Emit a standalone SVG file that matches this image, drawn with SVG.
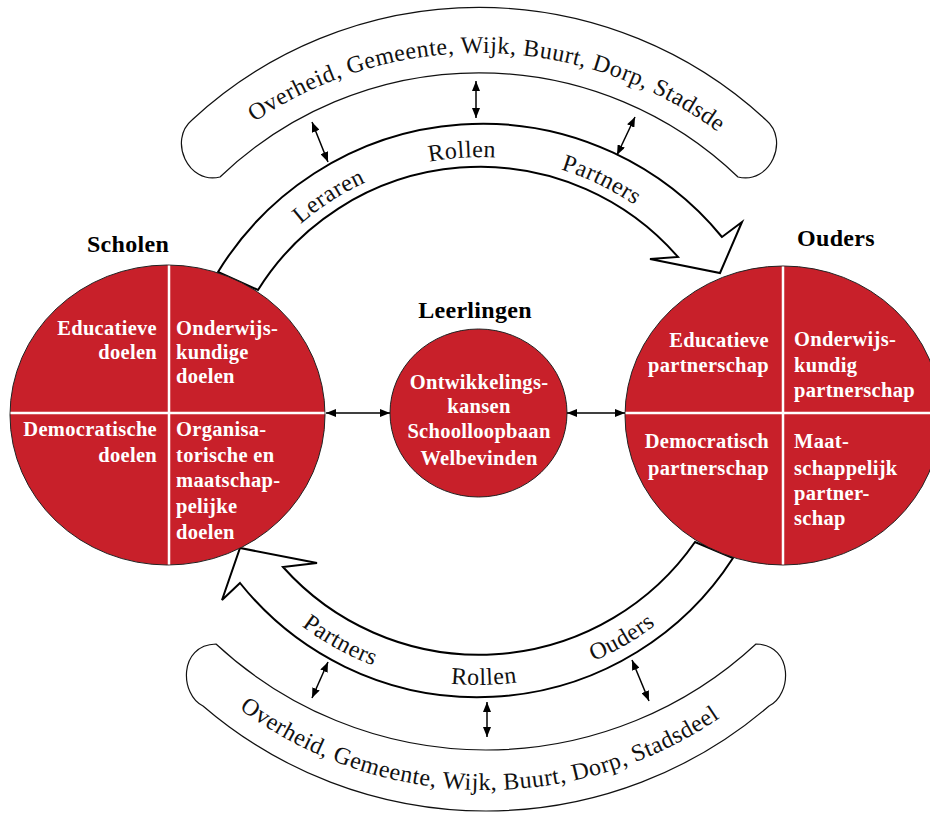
<svg xmlns="http://www.w3.org/2000/svg" width="930" height="814" viewBox="0 0 930 814">
<defs>
<style>
.band{fill:#fff;stroke:#111;stroke-width:1.2}
.arr{fill:#fff;stroke:#000;stroke-width:2;stroke-linejoin:miter}
.circ{fill:#C8202A;stroke:#222;stroke-width:1}
.div{stroke:#fff;stroke-width:2.5}
.lbl{font-family:"Liberation Serif","Times New Roman",serif;font-size:24px;letter-spacing:0.5px;fill:#111}
.wt{font-family:"Liberation Serif","Times New Roman",serif;font-weight:bold;font-size:20.5px;letter-spacing:0.3px;fill:#fff}
.hd{font-family:"Liberation Serif","Times New Roman",serif;font-weight:bold;font-size:24px;letter-spacing:0.3px;fill:#000;text-anchor:middle}
.conn{stroke:#000;stroke-width:1.5;fill:none;marker-start:url(#ah);marker-end:url(#ah)}
</style>
<marker id="ah" viewBox="0 0 10 8" refX="10" refY="4" markerWidth="10" markerHeight="8" markerUnits="userSpaceOnUse" orient="auto-start-reverse">
<path d="M0,0 L10,4 L0,8 Z" fill="#000"/>
</marker>
<path id="tpTopBand" d="M79 453 A400 400 0 0 1 879 453"/>
<path id="tpBotBand" d="M71 375 A415 415 0 0 0 901 375"/>
<path id="tpTopArr" d="M207 430 A273 273 0 0 1 753 430"/>
<path id="tpBotArr" d="M185 392 A293 293 0 0 0 771 392"/>
</defs>
<rect width="930" height="814" fill="#fff"/>

<g id="band-top">
<path class="band" d="M192 120 A422 422 0 0 1 766 120 C790 140 770 185 738 177 A374 374 0 0 0 220 177 C188 185 168 140 192 120 Z"/>
<text class="lbl" text-anchor="middle"><textPath href="#tpTopBand" startOffset="637">Overheid, Gemeente, Wijk, Buurt, Dorp, Stadsde</textPath></text>
</g>

<g id="band-bottom">
<path class="band" d="M216 644 A396.9 396.9 0 0 0 756 644 C794 645 792 695 769 706 A433.9 433.9 0 0 1 203 706 C180 695 178 645 216 644 Z"/>
<text class="lbl" text-anchor="middle"><textPath href="#tpBotBand" startOffset="644">Overheid, Gemeente, Wijk, Buurt, Dorp, Stadsdeel</textPath></text>
</g>

<g id="arrow-top">
<path class="arr" d="M218 272 A310 310 0 0 1 722 237 L742 222 L720 273 L650 259 L678 257 A262 262 0 0 0 258 290 Z"/>
<text class="lbl" text-anchor="middle"><textPath href="#tpTopArr" startOffset="272">Leraren</textPath></text>
<text class="lbl" text-anchor="middle"><textPath href="#tpTopArr" startOffset="411">Rollen</textPath></text>
<text class="lbl" text-anchor="middle"><textPath href="#tpTopArr" startOffset="552">Partners</textPath></text>
</g>

<g id="arrow-bottom">
<path class="arr" d="M733 558 A304 304 0 0 1 240 583 L222 600 L240 548 L317 563 L283 567 A263 263 0 0 0 695 542 Z"/>
<text class="lbl" text-anchor="middle"><textPath href="#tpBotArr" startOffset="312">Partners</textPath></text>
<text class="lbl" text-anchor="middle"><textPath href="#tpBotArr" startOffset="466">Rollen</textPath></text>
<text class="lbl" text-anchor="middle"><textPath href="#tpBotArr" startOffset="615">Ouders</textPath></text>
</g>

<g id="node-scholen">
<text class="hd" x="128" y="252">Scholen</text>
<ellipse class="circ" cx="167.5" cy="415" rx="157.5" ry="150"/>
<line class="div" x1="169" y1="265.5" x2="169" y2="564.5"/>
<line class="div" x1="10.5" y1="413" x2="324.5" y2="413"/>
<g class="wt" text-anchor="end">
<text x="157" y="335">Educatieve</text>
<text x="157" y="359">doelen</text>
<text x="157" y="436">Democratische</text>
<text x="157" y="462">doelen</text>
</g>
<g class="wt">
<text x="176" y="335">Onderwijs-</text>
<text x="176" y="359">kundige</text>
<text x="176" y="383">doelen</text>
<text x="176" y="436">Organisa-</text>
<text x="176" y="462">torische en</text>
<text x="176" y="487">maatschap-</text>
<text x="176" y="513">pelijke</text>
<text x="176" y="539">doelen</text>
</g>
</g>

<g id="node-leerlingen">
<text class="hd" x="475" y="318">Leerlingen</text>
<ellipse class="circ" cx="478.5" cy="413" rx="88.5" ry="84"/>
<g class="wt" text-anchor="middle">
<text x="479" y="389">Ontwikkelings-</text>
<text x="479" y="413">kansen</text>
<text x="479" y="438">Schoolloopbaan</text>
<text x="479" y="465">Welbevinden</text>
</g>
</g>

<g id="node-ouders">
<text class="hd" x="836" y="246">Ouders</text>
<ellipse class="circ" cx="783" cy="415.5" rx="158" ry="149.5"/>
<line class="div" x1="783" y1="266.5" x2="783" y2="564.5"/>
<line class="div" x1="625.5" y1="413" x2="930" y2="413"/>
<g class="wt" text-anchor="end">
<text x="769" y="347">Educatieve</text>
<text x="769" y="372">partnerschap</text>
<text x="769" y="448">Democratisch</text>
<text x="769" y="475">partnerschap</text>
</g>
<g class="wt">
<text x="794" y="346">Onderwijs-</text>
<text x="794" y="372">kundig</text>
<text x="794" y="397">partnerschap</text>
<text x="794" y="448">Maat-</text>
<text x="794" y="475">schappelijk</text>
<text x="794" y="500">partner-</text>
<text x="794" y="525">schap</text>
</g>
</g>

<g id="connectors">
<line class="conn" x1="312" y1="122" x2="328" y2="162"/>
<line class="conn" x1="476" y1="81" x2="476" y2="118"/>
<line class="conn" x1="635" y1="117" x2="617" y2="155"/>
<line class="conn" x1="328" y1="662" x2="312" y2="698"/>
<line class="conn" x1="487" y1="702" x2="487" y2="737"/>
<line class="conn" x1="632" y1="660" x2="649" y2="701"/>
<line class="conn" x1="326" y1="413" x2="390" y2="413"/>
<line class="conn" x1="567" y1="413" x2="625" y2="413"/>
</g>
</svg>
